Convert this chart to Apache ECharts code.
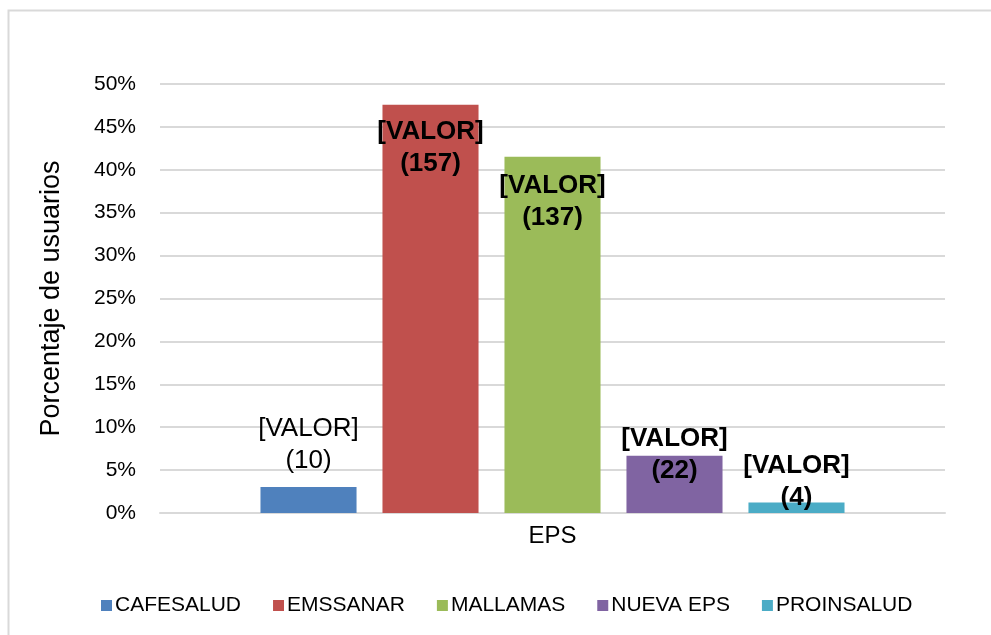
<!DOCTYPE html>
<html>
<head>
<meta charset="utf-8">
<script src="https://cdn.jsdelivr.net/npm/echarts@6/dist/echarts.min.js"></script>
<style>
  html, body { margin: 0; padding: 0; background: #fff; }
  #chart { width: 991px; height: 635px; }
</style>
</head>
<body>
<div id="chart"></div>
<script>
// datos
const categories = ['EPS']
const seriesNames = ['CAFESALUD', 'EMSSANAR', 'MALLAMAS', 'NUEVA EPS', 'PROINSALUD']
const percentages = [3.03, 47.58, 41.52, 6.67, 1.21]
const counts = [10, 157, 137, 22, 4]
const colors = ['#4F81BD', '#C0504D', '#9BBB59', '#8064A2', '#4BACC6']
const yTicks = { min: 0, max: 50, interval: 5 }

// posicion de cada etiqueta (colocadas a mano en el original)
const labelStyles = [
  { position: 'top', distance: 10, fontWeight: 'normal', offset: [0, 0] },
  { position: 'insideTop', distance: 11, fontWeight: 'bold', offset: [0, 0] },
  { position: 'insideTop', distance: 13, fontWeight: 'bold', offset: [0, 0] },
  { position: 'top', distance: 0, fontWeight: 'bold', offset: [0, 31] },
  { position: 'top', distance: 0, fontWeight: 'bold', offset: [0, 11] }
]

const chart = echarts.init(document.getElementById('chart'))

const series = seriesNames.map((name, i) => ({
  name,
  type: 'bar',
  data: [percentages[i]],
  barGap: '27%',
  barCategoryGap: '25.6%',
  itemStyle: { color: colors[i] },
  label: {
    show: true,
    position: labelStyles[i].position,
    distance: labelStyles[i].distance,
    offset: labelStyles[i].offset,
    formatter: () => '[VALOR]\n(' + counts[i] + ')',
    fontFamily: 'Liberation Sans, Arial, sans-serif',
    fontSize: 26,
    lineHeight: 32,
    fontWeight: labelStyles[i].fontWeight,
    color: '#000'
  }
}))

chart.setOption({
  animation: false,
  color: colors,
  textStyle: { fontFamily: 'Liberation Sans, Arial, sans-serif' },
  grid: { left: 160, right: 46, top: 84, bottom: 122 },
  graphic: [{
    type: 'polyline',
    shape: { points: [[8.5, 640], [8.5, 10.5], [995, 10.5]] },
    style: { stroke: '#d9d9d9', lineWidth: 2, fill: null },
    silent: true
  }],
  legend: {
    left: 96,
    top: 590,
    itemWidth: 11,
    itemHeight: 11,
    itemGap: 32,
    icon: 'rect',
    textStyle: { fontSize: 21, color: '#000', padding: [0, 0, 0, -2] },
    data: seriesNames
  },
  xAxis: {
    type: 'category',
    data: categories,
    axisTick: { show: false },
    axisLine: { lineStyle: { color: '#d9d9d9', width: 2 } },
    axisLabel: { fontSize: 24, color: '#000', margin: 11 }
  },
  yAxis: {
    type: 'value',
    min: yTicks.min,
    max: yTicks.max,
    interval: yTicks.interval,
    name: 'Porcentaje de usuarios',
    nameLocation: 'middle',
    nameGap: 95,
    nameTextStyle: { fontSize: 27, color: '#000' },
    axisLine: { show: false },
    axisTick: { show: false },
    axisLabel: { formatter: '{value}%', fontSize: 21, color: '#000', margin: 24 },
    splitLine: { lineStyle: { color: '#d9d9d9', width: 2 } }
  },
  series
})
</script>
</body>
</html>
